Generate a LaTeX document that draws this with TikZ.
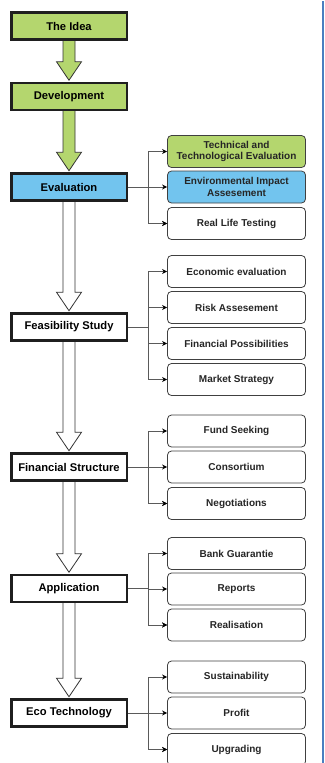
\documentclass[tikz,border=0pt]{standalone}
\usepackage{fontspec}
\setmainfont{Liberation Sans}
\usetikzlibrary{calc,arrows.meta,backgrounds}
\definecolor{leafgreen}{HTML}{B4D66E}
\definecolor{skyblue}{HTML}{72C4EE}
\definecolor{edgeblue}{HTML}{4A7FC0}
\definecolor{wiregray}{HTML}{5A5A5A}

% block arrow between two stacked stage boxes: #1 upper node, #2 lower node, #3 fill
\newcommand{\blockarrow}[3]{%
  \draw[line width=0.8pt, draw=black!80, fill=#3, line join=miter]
    let \p1=(#1.south), \p2=(#2.north) in
    (\x1-6pt,\y1+3pt) -- (\x1+6pt,\y1+3pt) -- (\x1+6pt,\y2+20pt)
    -- (\x1+12.5pt,\y2+20pt) -- (\x1,\y2+1.5pt) -- (\x1-12.5pt,\y2+20pt)
    -- (\x1-6pt,\y2+20pt) -- cycle;}

\begin{document}
\begin{tikzpicture}[x=1pt,y=-1pt,
  stage/.style={draw=black!88, line width=2.5pt, fill=white,
    minimum width=115.5pt, minimum height=27pt, inner sep=0pt,
    font=\fontsize{11.2}{13}\selectfont\bfseries},
  task/.style={draw=black!75, line width=0.8pt, rounded corners=4pt, fill=white,
    minimum width=138pt, minimum height=32pt, inner sep=0pt, align=center,
    font=\fontsize{10}{11.5}\selectfont\bfseries, text=black!85},
  wire/.style={draw=wiregray, line width=0.9pt},
  tip/.style={-{Stealth[length=5pt,width=5pt,color=black]}}
]
\useasboundingbox (0,0) rectangle (324,763);
\clip (0,0) rectangle (324,763);

% main stages
\node[stage, fill=leafgreen] (idea) at (69,26)   {The Idea};
\node[stage, fill=leafgreen] (dev)  at (69,96.5) {Development};
\node[stage, fill=skyblue]   (eval) at (69,187)  {Evaluation};
\node[stage] (feas) at (69,327)   {Feasibility Study};
\node[stage] (fin)  at (69,467)   {Financial Structure};
\node[stage] (app)  at (69,588.5) {Application};
\node[stage] (eco)  at (69,713)   {Eco Technology};

% tasks of each stage
\node[task, fill=leafgreen] (tech) at (236.5,151.5) {Technical and\\Technological Evaluation};
\node[task, fill=skyblue]   (env)  at (236.5,187)   {Environmental Impact\\Assesement};
\node[task] (real) at (236.5,223.5) {Real Life Testing};

\node[task] (econ) at (236.5,271.5) {Economic evaluation};
\node[task] (risk) at (236.5,307.5) {Risk Assesement};
\node[task] (fpos) at (236.5,343.5) {Financial Possibilities};
\node[task] (mark) at (236.5,379.5) {Market Strategy};

\node[task] (fund) at (236.5,431)   {Fund Seeking};
\node[task] (cons) at (236.5,467)   {Consortium};
\node[task] (nego) at (236.5,503.5) {Negotiations};

\node[task] (bank) at (236.5,553.5) {Bank Guarantie};
\node[task] (rep)  at (236.5,589)   {Reports};
\node[task] (rlz)  at (236.5,625)   {Realisation};

\node[task] (sust) at (236.5,677)   {Sustainability};
\node[task] (prof) at (236.5,713)   {Profit};
\node[task] (upg)  at (236.5,749.5) {Upgrading};

% branching connectors
\foreach \s/\a/\b/\c/\d in {eval/tech/env/real/real, feas/econ/risk/fpos/mark,
                            fin/fund/cons/nego/nego, app/bank/rep/rlz/rlz,
                            eco/sust/prof/upg/upg}{
  \coordinate (\s-j) at ($(\s.east)+(20pt,0)$);
  \draw[wire] (\s.east) -- (\s-j);
  \draw[wire,tip] (\s-j) |- (\a.west);
  \draw[wire,tip] (\s-j) |- (\b.west);
  \draw[wire,tip] (\s-j) |- (\c.west);
  \draw[wire,tip] (\s-j) |- (\d.west);
}

% flow arrows between stages
\begin{scope}[on background layer]
  \blockarrow{idea}{dev}{leafgreen}
  \blockarrow{dev}{eval}{leafgreen}
  \blockarrow{eval}{feas}{white}
  \blockarrow{feas}{fin}{white}
  \blockarrow{fin}{app}{white}
  \blockarrow{app}{eco}{white}
\end{scope}

% page edge rule
\fill[edgeblue] (321.8,1) rectangle (324,763);
\end{tikzpicture}
\end{document}
